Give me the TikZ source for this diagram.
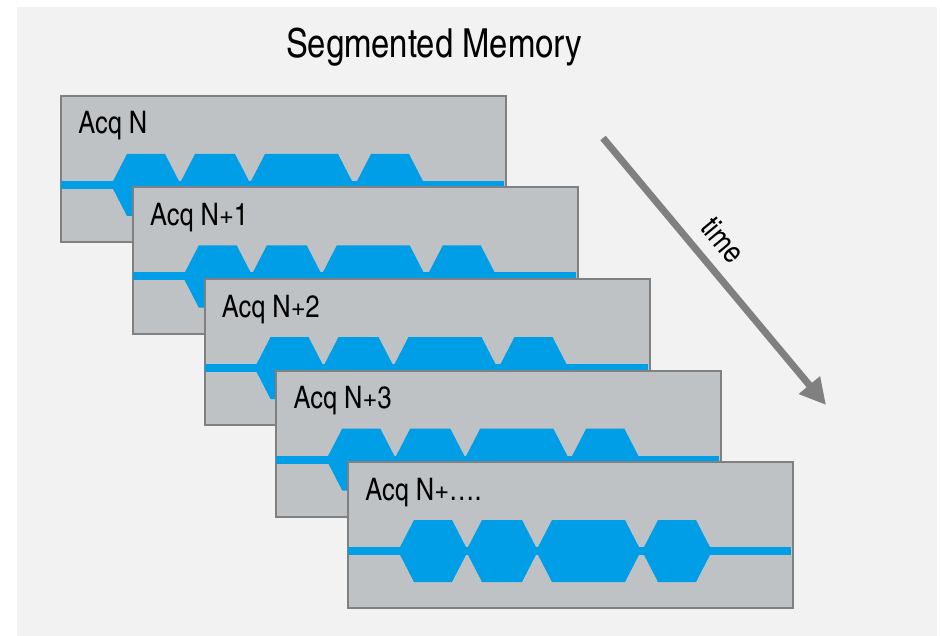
\documentclass[tikz,border=0pt]{standalone}
\usepackage{fontspec}
\setmainfont{TeX Gyre Heros Cn}
\usepackage{xcolor}
\usetikzlibrary{arrows.meta}

\definecolor{bggray}{RGB}{242,242,242}
\definecolor{panelgray}{RGB}{191,194,197}
\definecolor{edgegray}{RGB}{128,128,128}
\definecolor{sigblue}{RGB}{0,158,230}

\begin{document}
\begin{tikzpicture}[x=0.5pt, y=-0.5pt]
        \tikzset{panel/.style={draw=edgegray, fill=panelgray, line width=1pt, rectangle, minimum width=222.5pt, minimum height=73pt, inner sep=0pt, anchor=north west}}
        \tikzset{acqlabel/.style={anchor=base west, inner sep=0pt, font=\fontsize{15.5}{18}\selectfont}}
        \tikzset{burst/.style={fill=sigblue}}

        \useasboundingbox (0,0) rectangle (942,636);
        \fill[bggray] (17,7) rectangle (937,636);

        \node[font=\fontsize{20}{24}\selectfont] (title) at (434,47) {Segmented Memory};

        % one frame per acquisition, each drawn over the one before
        \foreach \i/\lab in {0/N, 1/N+1, 2/N+2, 3/N+3, 4/N+….} {
            \node[panel] (p\i) at ({60+71.75*\i},{95+91.5*\i}) {};
            \begin{scope}[shift={(p\i.north west)}]
                \fill[sigblue] (1,86) rectangle (444,94);
                \foreach \a/\b in {51/121, 119/191, 189/294, 295/365}
                    \fill[burst] (\a,90) -- (\a+16,59) -- (\b-16,59) -- (\b,90) -- (\b-16,121) -- (\a+16,121) -- cycle;
                \node[acqlabel] (l\i) at (18,39) {Acq \lab};
            \end{scope}
        }

        \coordinate (t0) at (603,138);
        \coordinate (t1) at (826,405);
        \draw[edgegray, line width=3.5pt, -{Triangle[width=13pt, length=13pt]}] (t0) -- (t1);
        \node[rotate=-50.3, font=\fontsize{15.5}{18}\selectfont, inner sep=0pt] (timelab) at (723,240) {time};

    \end{tikzpicture}
\end{document}
